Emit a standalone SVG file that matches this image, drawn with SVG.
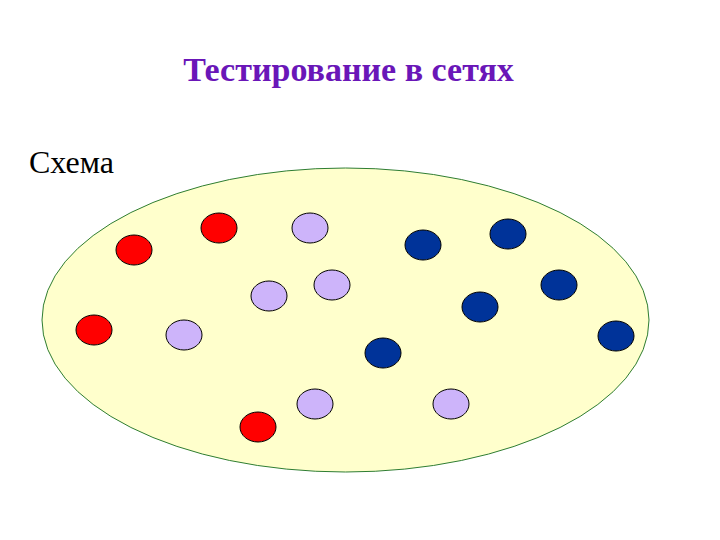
<svg xmlns="http://www.w3.org/2000/svg" width="720" height="540" viewBox="0 0 720 540">
<style>
.title{font-family:"Liberation Serif","DejaVu Serif",serif;font-weight:bold;font-size:34px;fill:#6a16b8}
.lbl{font-family:"Liberation Serif","DejaVu Serif",serif;font-size:32px;fill:#000}
.n{stroke:#000;stroke-width:1}
.red{fill:#ff0000}
.lav{fill:#cdb4fa}
.blue{fill:#003399}
</style>
<rect width="720" height="540" fill="#fff"/>
<text class="title" x="348.5" y="81" text-anchor="middle">Тестирование в сетях</text>
<text class="lbl" x="29" y="173">Схема</text>
<g id="area"><ellipse cx="345.5" cy="320" rx="303.5" ry="152" fill="#ffffcc" stroke="#2e7d32" stroke-width="1"/></g>
<g id="connectors"></g>
<g id="r1"><ellipse class="n red" cx="134" cy="250" rx="18" ry="15"/></g>
<g id="r2"><ellipse class="n red" cx="219" cy="228" rx="18" ry="15"/></g>
<g id="r3"><ellipse class="n red" cx="94" cy="330" rx="18" ry="15"/></g>
<g id="r4"><ellipse class="n red" cx="258" cy="427" rx="18" ry="15"/></g>
<g id="l1"><ellipse class="n lav" cx="310" cy="228" rx="18" ry="15"/></g>
<g id="l2"><ellipse class="n lav" cx="332" cy="285" rx="18" ry="15"/></g>
<g id="l3"><ellipse class="n lav" cx="269" cy="296" rx="18" ry="15"/></g>
<g id="l4"><ellipse class="n lav" cx="184" cy="335" rx="18" ry="15"/></g>
<g id="l5"><ellipse class="n lav" cx="315" cy="404" rx="18" ry="15"/></g>
<g id="l6"><ellipse class="n lav" cx="451" cy="404" rx="18" ry="15"/></g>
<g id="b1"><ellipse class="n blue" cx="423" cy="245" rx="18" ry="15"/></g>
<g id="b2"><ellipse class="n blue" cx="508" cy="234" rx="18" ry="15"/></g>
<g id="b3"><ellipse class="n blue" cx="559" cy="285" rx="18" ry="15"/></g>
<g id="b4"><ellipse class="n blue" cx="480" cy="307" rx="18" ry="15"/></g>
<g id="b5"><ellipse class="n blue" cx="383" cy="353" rx="18" ry="15"/></g>
<g id="b6"><ellipse class="n blue" cx="616" cy="336" rx="18" ry="15"/></g>
</svg>
